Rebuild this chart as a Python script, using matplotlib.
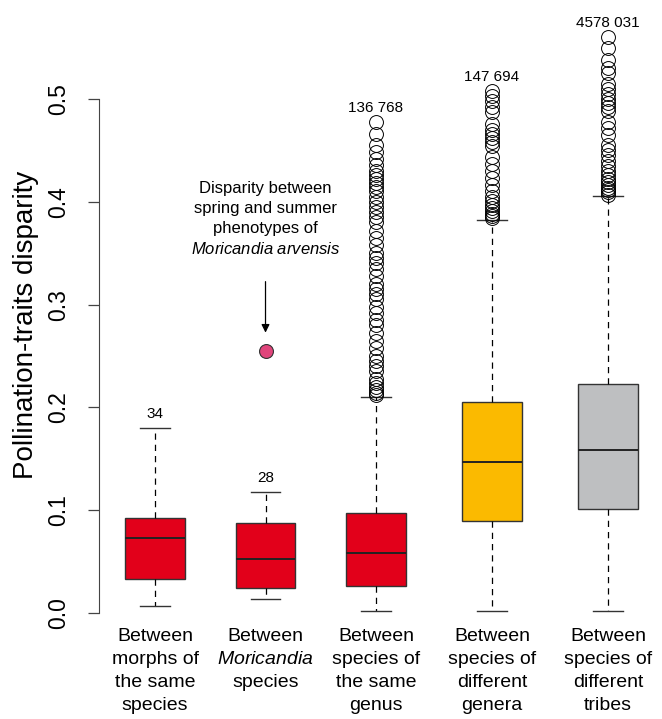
import matplotlib
matplotlib.use("Agg")
from matplotlib import pyplot as plt
import numpy as np

plt.rcParams['font.family'] = ['Liberation Sans', 'DejaVu Sans']
plt.rcParams['mathtext.fontset'] = 'custom'
plt.rcParams['mathtext.rm'] = 'Liberation Sans'
plt.rcParams['mathtext.it'] = 'Liberation Sans:italic'

# Groups and box statistics
groups = ["Between\nmorphs of\nthe same\nspecies",
          "Between\n$\\it{Moricandia}$\nspecies",
          "Between\nspecies of\nthe same\ngenus",
          "Between\nspecies of\ndifferent\ngenera",
          "Between\nspecies of\ndifferent\ntribes"]
counts = ["34", "28", "136 768", "147 694", "4578 031"]
whislo = [0.007, 0.014, 0.002, 0.002, 0.002]
q1 = [0.033, 0.024, 0.026, 0.0895, 0.101]
med = [0.073, 0.053, 0.058, 0.147, 0.159]
q3 = [0.092, 0.088, 0.097, 0.205, 0.223]
whishi = [0.180, 0.118, 0.210, 0.382, 0.406]

fliers3 = [0.478, 0.466, 0.455, 0.448, 0.442, 0.436, 0.430, 0.426, 0.422, 0.418,
           0.414, 0.410, 0.405, 0.400, 0.395, 0.390, 0.385, 0.380, 0.372, 0.365,
           0.358, 0.350, 0.345, 0.340, 0.335, 0.328, 0.320, 0.315, 0.310, 0.305,
           0.298, 0.292, 0.285, 0.280, 0.272, 0.265, 0.258, 0.250, 0.245, 0.240,
           0.235, 0.228, 0.224, 0.220, 0.217, 0.214, 0.212]
fliers4 = [0.508, 0.503, 0.498, 0.492, 0.487, 0.476, 0.470, 0.466, 0.462, 0.458,
           0.454, 0.444, 0.437, 0.430, 0.423, 0.416, 0.410, 0.405, 0.401, 0.397,
           0.394, 0.391, 0.388, 0.386, 0.384]
fliers5 = [0.560, 0.550, 0.538, 0.530, 0.525, 0.515, 0.510, 0.505, 0.500, 0.496,
           0.492, 0.488, 0.478, 0.472, 0.465, 0.455, 0.450, 0.445, 0.440, 0.435,
           0.430, 0.426, 0.422, 0.419, 0.416, 0.413, 0.411, 0.409, 0.407]
fliers = [[], [], fliers3, fliers4, fliers5]

# spring vs summer phenotypes of M. arvensis
special_value = 0.255

colors = ["#E2001A", "#E2001A", "#E2001A", "#FBBA00", "#BEBFC1"]
positions = [1, 2, 3, 4.05, 5.1]

fig = plt.figure(figsize=(6.62, 7.19), dpi=100)
ax = fig.add_axes([99/662, 0.1188, 556/662, 0.858])

stats = []
for i in range(5):
    stats.append(dict(med=med[i], q1=q1[i], q3=q3[i], whislo=whislo[i],
                      whishi=whishi[i], fliers=fliers[i]))

bp = ax.bxp(stats, positions=positions, widths=0.54, patch_artist=True,
            showfliers=True,
            boxprops=dict(edgecolor="#333333", linewidth=1.0),
            medianprops=dict(color="#222222", linewidth=1.4),
            whiskerprops=dict(color="black", linewidth=0.9, linestyle=(0, (5, 4))),
            capprops=dict(color="#333333", linewidth=1.0),
            capwidths=0.27,
            flierprops=dict(marker='o', markerfacecolor='none',
                            markeredgecolor='black', markersize=10,
                            markeredgewidth=0.7))
for patch, c in zip(bp['boxes'], colors):
    patch.set_facecolor(c)

# count labels above each group
for i in range(5):
    top = max([whishi[i]] + fliers[i])
    ax.annotate(counts[i], (positions[i], top), xytext=(0, 5),
                textcoords='offset points', ha='center', va='bottom', fontsize=11)

# highlighted point and annotation
ax.plot(positions[1], special_value, 'o', markersize=10, markerfacecolor="#E0457B",
        markeredgecolor="#333333", markeredgewidth=0.8)
ax.annotate("", xy=(positions[1], 0.270), xytext=(positions[1], 0.325),
            arrowprops=dict(arrowstyle='-|>', color='black', linewidth=0.9,
                            mutation_scale=12))
ax.text(positions[1], 0.346, "Disparity between\nspring and summer\nphenotypes of\n$\\it{Moricandia\\ arvensis}$",
        ha='center', va='bottom', fontsize=12, linespacing=1.4)

ax.set_xlim(0.493, 5.525)
ax.set_ylim(-0.02, 0.58)
for s in ['top', 'right', 'bottom']:
    ax.spines[s].set_visible(False)
ax.spines['left'].set_bounds(0, 0.5)
ax.spines['left'].set_color("#444444")
ax.set_yticks([0.0, 0.1, 0.2, 0.3, 0.4, 0.5])
ax.set_yticklabels(["0.0", "0.1", "0.2", "0.3", "0.4", "0.5"], rotation=90,
                   va='center', fontsize=16.5)
ax.tick_params(axis='y', length=8, width=0.9, color="#444444", pad=13)
ax.set_xticks(positions)
ax.set_xticklabels(groups, fontsize=14, linespacing=1.47)
ax.tick_params(axis='x', length=0, pad=-4)
ax.set_ylabel("Pollination-traits disparity", fontsize=20)
ax.yaxis.set_label_coords(-0.108, 0.5)

fig.savefig("out.png", dpi=100)
